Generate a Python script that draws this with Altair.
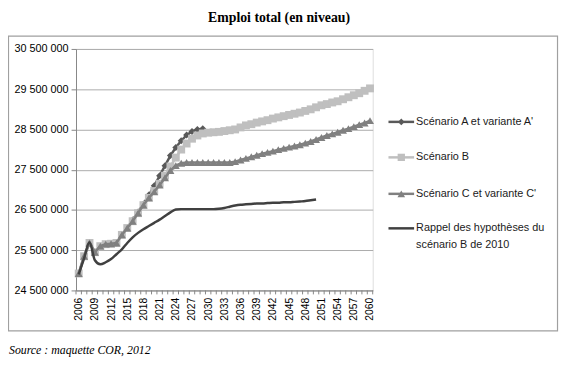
import altair as alt
import pandas as pd

# ---------------- data (millions of jobs) ----------------
years = list(range(2006, 2061))

scen_a = [24.92, 25.35, 25.68, 25.45, 25.6, 25.65, 25.66, 25.68, 25.88, 26.05,
          26.25, 26.45, 26.65, 26.87, 27.1, 27.35, 27.6, 27.85, 28.05, 28.22,
          28.36, 28.45, 28.5, 28.52]

scen_b = [24.92, 25.35, 25.68, 25.45, 25.6, 25.65, 25.66, 25.68, 25.88, 26.05,
          26.22, 26.42, 26.62, 26.8, 26.97, 27.15, 27.35, 27.58, 27.8, 28.0,
          28.15, 28.27, 28.35, 28.4, 28.42, 28.43, 28.44, 28.46, 28.48, 28.5,
          28.55, 28.6, 28.63, 28.67, 28.7, 28.73, 28.77, 28.8, 28.83, 28.86,
          28.89, 28.92, 28.96, 29.0, 29.05, 29.1, 29.13, 29.17, 29.2, 29.25,
          29.3, 29.35, 29.4, 29.46, 29.52]

scen_c = [24.92, 25.35, 25.68, 25.45, 25.6, 25.65, 25.66, 25.68, 25.88, 26.05,
          26.22, 26.42, 26.62, 26.8, 26.95, 27.12, 27.3, 27.48, 27.6, 27.66,
          27.68, 27.68, 27.68, 27.68, 27.68, 27.68, 27.68, 27.68, 27.68, 27.7,
          27.74, 27.78, 27.82, 27.86, 27.9, 27.93, 27.96, 28.0, 28.03, 28.06,
          28.09, 28.12, 28.16, 28.2, 28.25, 28.3, 28.35, 28.39, 28.43, 28.48,
          28.52, 28.57, 28.62, 28.66, 28.72]

rappel = [24.9, 25.3, 25.7, 25.25, 25.15, 25.2, 25.28, 25.4, 25.52, 25.68,
          25.82, 25.93, 26.02, 26.1, 26.18, 26.26, 26.35, 26.44, 26.51, 26.52,
          26.52, 26.52, 26.52, 26.52, 26.52, 26.52, 26.53, 26.55, 26.58, 26.61,
          26.63, 26.64, 26.65, 26.66, 26.66, 26.67, 26.68, 26.68, 26.69, 26.69,
          26.7, 26.71, 26.72, 26.74, 26.76]

y_ticks = [24.5, 25.5, 26.5, 27.5, 28.5, 29.5, 30.5]
x_labels = list(range(2006, 2061, 3))
x_tick_marks = [y - 0.5 for y in years] + [2060.5]

legend_labels = ["Scénario A et variante A'", "Scénario B",
                 "Scénario C et variante C'", "Rappel des hypothèses du",
                 "scénario B de 2010"]
title_text = "Emploi total (en niveau)"
source_text = "Source : maquette COR, 2012"

# ---------------- styling ----------------
FONT = "Liberation Sans"
COL_A = "#595959"
COL_B = "#bfbfbf"
COL_C = "#808080"
COL_R = "#404040"
AXIS_COL = "#868686"
GRID_COL = "#ababab"

W, H = 301, 245


def frame(vals):
    return pd.DataFrame({"year": years[:len(vals)], "v": vals})


x_enc = alt.X("year:Q",
              scale=alt.Scale(domain=[2005.5, 2060.5], nice=False, zero=False),
              axis=alt.Axis(values=x_labels, labelAngle=270, ticks=False, grid=False,
                            domainColor=AXIS_COL, labelFontSize=10.5, labelFont=FONT,
                            labelColor="black", labelPadding=7, format="d", title=None,
                            labelOverlap=False, labelFlush=False))
y_enc = alt.Y("v:Q",
              scale=alt.Scale(domain=[24.5, 30.5], nice=False, zero=False),
              axis=alt.Axis(values=y_ticks, grid=True, gridColor=GRID_COL,
                            domainColor=AXIS_COL, tickColor=AXIS_COL, tickSize=5,
                            labelFontSize=11, labelFont=FONT, labelColor="black",
                            labelPadding=3, title=None, labelFlush=False,
                            labelExpr="replace(format(datum.value * 1000000, ','), /,/g, ' ')"))

# minor tick marks of the category axis
ticks = alt.Chart(pd.DataFrame({"year": x_tick_marks})).mark_rule(
    color=AXIS_COL, strokeWidth=1).encode(
    x=x_enc, y=alt.value(H), y2=alt.value(H + 4))

df_a, df_b, df_c, df_r = frame(scen_a), frame(scen_b), frame(scen_c), frame(rappel)

line_a = alt.Chart(df_a).mark_line(color=COL_A, strokeWidth=2.5).encode(x=x_enc, y=y_enc)
pts_a = alt.Chart(df_a).mark_point(shape="diamond", filled=True, color=COL_A, size=50,
                                   opacity=1).encode(x=x_enc, y=y_enc)
line_b = alt.Chart(df_b).mark_line(color=COL_B, strokeWidth=2.5).encode(x=x_enc, y=y_enc)
pts_b = alt.Chart(df_b).mark_point(shape="square", filled=True, color=COL_B, size=64,
                                   opacity=1).encode(x=x_enc, y=y_enc)
line_c = alt.Chart(df_c).mark_line(color=COL_C, strokeWidth=2.5).encode(x=x_enc, y=y_enc)
pts_c = alt.Chart(df_c).mark_point(shape="triangle-up", filled=True, color=COL_C, size=65,
                                   opacity=1).encode(x=x_enc, y=y_enc)
line_r = alt.Chart(df_r).mark_line(color=COL_R, strokeWidth=2.5,
                                   interpolate="monotone").encode(x=x_enc, y=y_enc)

# ---------------- legend ----------------
LX0, LX1, LXM, LXT = 317, 343, 330, 345
leg_y = [74, 110, 147, 182]
leg_cols = [COL_A, COL_B, COL_C, COL_R]
leg_shapes = ["diamond", "square", "triangle-up", None]
leg_sizes = [45, 55, 60, 0]

one = pd.DataFrame({"a": [0]})
legend_layers = []
for yy, col, shp, sz in zip(leg_y, leg_cols, leg_shapes, leg_sizes):
    legend_layers.append(alt.Chart(one).mark_rule(color=col, strokeWidth=2.5).encode(
        x=alt.value(LX0), x2=alt.value(LX1), y=alt.value(yy)))
    if shp:
        legend_layers.append(alt.Chart(one).mark_point(
            shape=shp, filled=True, color=col, size=sz, opacity=1).encode(
            x=alt.value(LXM), y=alt.value(yy)))

leg_text_y = [74, 110, 147, 182, 199]
for txt, yy in zip(legend_labels, leg_text_y):
    legend_layers.append(alt.Chart(pd.DataFrame({"t": [txt]})).mark_text(
        align="left", baseline="middle", font=FONT, fontSize=11, color="#1a1a1a").encode(
        x=alt.value(LXT), y=alt.value(yy), text="t:N"))

title = alt.Chart(pd.DataFrame({"t": [title_text]})).mark_text(
    align="center", baseline="middle", font="Liberation Serif", fontSize=14,
    fontWeight="bold", color="black").encode(
    x=alt.value(206), y=alt.value(-31), text="t:N")

source = alt.Chart(pd.DataFrame({"t": [source_text]})).mark_text(
    align="left", baseline="alphabetic", font="Liberation Serif", fontSize=12,
    fontStyle="italic", color="black").encode(
    x=alt.value(-68), y=alt.value(309), text="t:N")

box = alt.Chart(one).mark_rect(fillOpacity=0, stroke="#a0a0a0", strokeWidth=1.2).encode(
    x=alt.value(-68.5), x2=alt.value(488.5), y=alt.value(-13), y2=alt.value(286))

chart = alt.layer(
    box, ticks, line_a, pts_a, line_b, pts_b, line_c, pts_c, line_r,
    *legend_layers, title, source
).properties(
    width=W, height=H,
    autosize=alt.AutoSizeParams(type="none"),
    padding={"left": 69, "top": 39, "right": 189, "bottom": 66},
).configure_view(stroke=None).configure(background="white")

chart.save("out.html", embed_options={"renderer": "svg", "actions": False})
